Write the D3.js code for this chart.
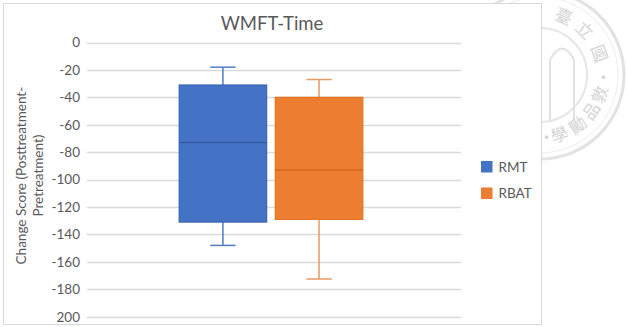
<!DOCTYPE html>
<html>
<head>
<meta charset="utf-8">
<script src="https://cdn.jsdelivr.net/npm/d3@7"></script>
<style>
    body { margin: 0; background: #fff; }
    text { font-family: Lato, "Open Sans", sans-serif; fill: #595959; }
</style>
</head>
<body>
<div id="chart"></div>
<script>
// data
var series = ["RMT", "RBAT"];
var whiskerTop = [-18, -27];
var q3 = [-31, -40];
var medians = [-73, -93];
var q1 = [-131, -129];
var whiskerBottom = [-148, -172.5];
var seriesColors = ["#4472C4", "#ED7D31"];
var edgeColors = ["#3B65B3", "#E0741F"];
var medianColors = ["#2F5597", "#C55A11"];
var whiskerColors = ["#4F7BC8", "#E89A62"];
var yTicks = [0, -20, -40, -60, -80, -100, -120, -140, -160, -180, -200];
var yTickLabels = ["0", "-20", "-40", "-60", "-80", "-100", "-120", "-140", "-160", "-180", "200"];
var sealChars = ["臺", "立", "國", "·", "敦", "品", "勵", "學", "·"];
var sealAngles = [-68, -45, -20, 2, 18, 35, 53, 72, 84];

var boxData = series.map(function(s, i) {
    return { name: s, hi: whiskerTop[i], q3: q3[i], med: medians[i], q1: q1[i], lo: whiskerBottom[i], i: i };
});

// STEP 1: canvas
var svgWidth = 626;
var svgHeight = 327;

var svg = d3.select("#chart")
    .append("svg")
    .attr("width", svgWidth)
    .attr("height", svgHeight);

// faint seal watermark behind the chart
var seal = svg.append("g")
    .attr("transform", "translate(540, 75)")
    .style("opacity", 0.6);

seal.append("circle").attr("r", 84).attr("fill", "none").attr("stroke", "#cfcfcf").attr("stroke-width", 3);
seal.append("circle").attr("r", 78).attr("fill", "none").attr("stroke", "#e2e2e2").attr("stroke-width", 1);
seal.append("circle").attr("r", 47).attr("fill", "none").attr("stroke", "#d6d6d6").attr("stroke-width", 2);
// arch of the emblem
seal.append("path")
    .attr("d", "M10,45 L10,-15 Q22,-38 34,-15 L34,45")
    .attr("fill", "none")
    .attr("stroke", "#d0d0d0")
    .attr("stroke-width", 2);

seal.selectAll(".sealChar")
    .data(sealChars)
    .enter()
    .append("text")
    .attr("class", "sealChar")
    .attr("text-anchor", "middle")
    .attr("dy", "0.35em")
    .attr("transform", function(d, i) {
        var a = sealAngles[i] * Math.PI / 180;
        var rot = sealAngles[i] < 10 ? sealAngles[i] + 90 : sealAngles[i] - 90;
        return "translate(" + (63 * Math.cos(a)) + "," + (63 * Math.sin(a)) + ") rotate(" + rot + ")";
    })
    .style("font-family", "'Noto Sans CJK TC', sans-serif")
    .style("font-size", "17px")
    .style("fill", "#b8b8b8")
    .text(function(d) { return d; });

// chart area frame
svg.append("rect")
    .attr("x", 3.5)
    .attr("y", 3.5)
    .attr("width", 538)
    .attr("height", 321)
    .attr("fill", "#fff")
    .attr("stroke", "#d9d9d9");

var plot = { left: 87, right: 461, top: 42.5, bottom: 316.7 };

// STEP 2: scales
var yScale = d3.scaleLinear()
    .domain([0, -200])
    .range([plot.top, plot.bottom]);

var xScale = d3.scaleBand()
    .domain(series)
    .range([plot.left - 3, plot.right - 3])
    .paddingInner(0.09)
    .paddingOuter(0.99);

// STEP 3: gridlines + axis labels
svg.append("g")
    .selectAll("line")
    .data(yTicks)
    .enter()
    .append("line")
    .attr("x1", plot.left)
    .attr("x2", plot.right)
    .attr("y1", d => Math.round(yScale(d)) + 0.5)
    .attr("y2", d => Math.round(yScale(d)) + 0.5)
    .attr("stroke", "#d9d9d9")
    .attr("stroke-width", 1.3);

var leftAxis = d3.axisLeft(yScale)
    .tickValues(yTicks)
    .tickSize(0)
    .tickPadding(7)
    .tickFormat((d, i) => yTickLabels[i]);

var axisG = svg.append("g")
    .attr("transform", `translate(${plot.left}, 0)`)
    .call(leftAxis);
axisG.select(".domain").remove();
axisG.selectAll("text")
    .style("font-size", "13.5px")
    .style("font-family", "Lato, sans-serif")
    .attr("fill", "#595959");

// title
svg.append("text")
    .attr("x", 272)
    .attr("y", 30)
    .attr("text-anchor", "middle")
    .style("font-size", "18.5px")
    .text("WMFT-Time");

// y axis title
var yTitle = svg.append("text")
    .attr("transform", `translate(26, ${(plot.top + plot.bottom) / 2 - 4}) rotate(-90)`)
    .attr("text-anchor", "middle")
    .style("font-size", "13.5px");
yTitle.append("tspan").attr("x", 0).attr("dy", 0).text("Change Score (Posttreatment-");
yTitle.append("tspan").attr("x", 0).attr("dy", "1.25em").text("Pretreatment)");

// STEP 4: boxes
var boxes = svg.append("g")
    .selectAll("g")
    .data(boxData)
    .enter()
    .append("g");

var capW = xScale.bandwidth() * 0.29;

// whisker stems
boxes.append("line")
    .attr("x1", d => xScale(d.name) + xScale.bandwidth() / 2)
    .attr("x2", d => xScale(d.name) + xScale.bandwidth() / 2)
    .attr("y1", d => yScale(d.hi))
    .attr("y2", d => yScale(d.lo))
    .attr("stroke", d => whiskerColors[d.i])
    .attr("stroke-width", 1.5);

// caps
["hi", "lo"].forEach(function(k) {
    boxes.append("line")
        .attr("x1", d => xScale(d.name) + xScale.bandwidth() / 2 - capW / 2)
        .attr("x2", d => xScale(d.name) + xScale.bandwidth() / 2 + capW / 2)
        .attr("y1", d => yScale(d[k]))
        .attr("y2", d => yScale(d[k]))
        .attr("stroke", d => whiskerColors[d.i])
        .attr("stroke-width", 1.5);
});

// box
boxes.append("rect")
    .attr("x", d => xScale(d.name))
    .attr("y", d => yScale(d.q3))
    .attr("width", xScale.bandwidth())
    .attr("height", d => yScale(d.q1) - yScale(d.q3))
    .attr("fill", d => seriesColors[d.i])
    .attr("stroke", d => edgeColors[d.i])
    .attr("stroke-width", 1.2);

// median
boxes.append("line")
    .attr("x1", d => xScale(d.name))
    .attr("x2", d => xScale(d.name) + xScale.bandwidth())
    .attr("y1", d => yScale(d.med))
    .attr("y2", d => yScale(d.med))
    .attr("stroke", d => medianColors[d.i])
    .attr("stroke-width", 1);

// STEP 5: legend
var legend = svg.append("g")
    .selectAll("g")
    .data(series)
    .enter()
    .append("g")
    .attr("transform", (d, i) => `translate(481, ${161 + i * 26.5})`);

legend.append("rect")
    .attr("width", 11.5)
    .attr("height", 11.5)
    .attr("fill", (d, i) => seriesColors[i]);

legend.append("text")
    .attr("x", 17.5)
    .attr("y", 10.5)
    .style("font-size", "13.5px")
    .text(d => d);
</script>
</body>
</html>
